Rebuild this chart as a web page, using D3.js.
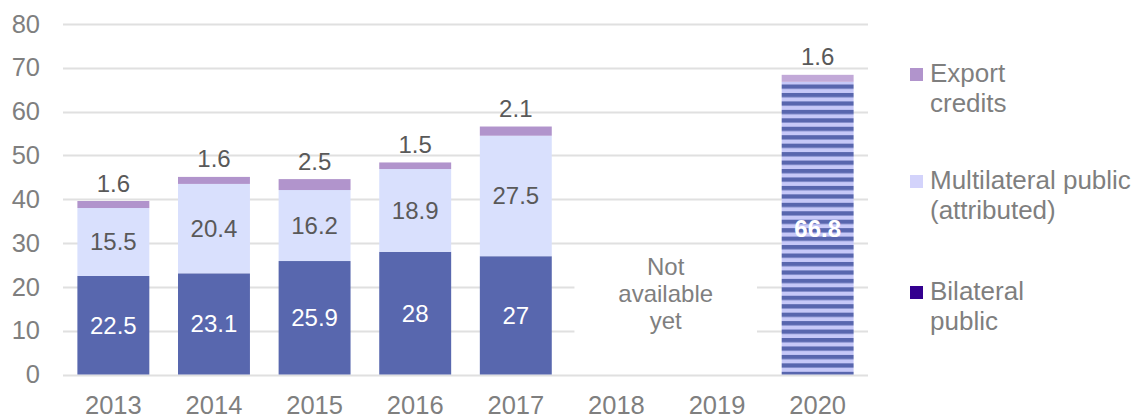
<!DOCTYPE html>
<html>
<head>
<meta charset="utf-8">
<script src="https://cdn.jsdelivr.net/npm/d3@7"></script>
<style>
  html, body { margin: 0; padding: 0; background: #fff; }
  svg { display: block; font-family: Arial, "Liberation Sans", sans-serif; }
</style>
</head>
<body>
<svg id="chart" width="1139" height="416"></svg>
<script>
// data
const years = ['2013', '2014', '2015', '2016', '2017', '2018', '2019', '2020'];
const bilateral = [22.5, 23.1, 25.9, 28, 27, null, null, 66.8];
const multilateral = [15.5, 20.4, 16.2, 18.9, 27.5, null, null, 0];
const exportCredits = [1.6, 1.6, 2.5, 1.5, 2.1, null, null, 1.6];
const yTicks = [0, 10, 20, 30, 40, 50, 60, 70, 80];
const legendItems = [
  { lines: ['Export', 'credits'], color: '#b194cc', base: 82 },
  { lines: ['Multilateral public', '(attributed)'], color: '#d3d3fb', base: 189 },
  { lines: ['Bilateral', 'public'], color: '#33008f', base: 300 }
];
const missingNote = ['Not', 'available', 'yet'];

const svg = d3.select('#chart');
const tickColor = '#7f7f7f';
const labelColor = '#595959';
const font = 'Arial, "Liberation Sans", sans-serif';

const x = d3.scaleBand().domain(years).range([63, 868]).paddingInner(0.285).paddingOuter(0.143);
const y = d3.scaleLinear().domain([0, 80]).range([374.5, 24]);

// stripes for the 2020 bar
const defs = svg.append('defs');
const pat = defs.append('pattern')
  .attr('id', 'stripes')
  .attr('patternUnits', 'userSpaceOnUse')
  .attr('width', 10).attr('height', 8.45);
pat.append('rect').attr('width', 10).attr('height', 8.45).attr('fill', '#c6c8f8');
pat.append('rect').attr('y', 0).attr('width', 10).attr('height', 4.3).attr('fill', '#5866ae');

// grid lines
svg.append('g').selectAll('line')
  .data(yTicks)
  .join('line')
  .attr('x1', 63).attr('x2', 868)
  .attr('y1', d => Math.round(y(d)) + 0.5).attr('y2', d => Math.round(y(d)) + 0.5)
  .attr('stroke', '#e0e0e0').attr('stroke-width', 2);

// y axis labels
const yAxis = svg.append('g').attr('transform', 'translate(40,0)')
  .call(d3.axisLeft(y).tickValues(yTicks).tickSize(0).tickPadding(0));
yAxis.select('.domain').remove();
yAxis.selectAll('text')
  .attr('fill', tickColor).attr('font-family', font).style('font-size', '25.5px');

// x axis labels
const xAxis = svg.append('g').attr('transform', 'translate(0,0)')
  .call(d3.axisBottom(x).tickSize(0).tickPadding(0));
xAxis.select('.domain').remove();
xAxis.selectAll('text')
  .attr('y', 414).attr('dy', null)
  .attr('fill', tickColor).attr('font-family', font).style('font-size', '25.5px');

// white box over 2018-2019
const x0 = x('2018') - 6, x1 = x('2019') + x.bandwidth() + 4;
svg.append('rect')
  .attr('x', x0).attr('y', y(30) + 11)
  .attr('width', x1 - x0).attr('height', y(7) - y(30) - 11)
  .attr('fill', '#fff');
svg.append('g').selectAll('text')
  .data(missingNote)
  .join('text')
  .attr('x', (x0 + x1) / 2)
  .attr('y', (d, i) => 275 + i * 27)
  .attr('text-anchor', 'middle')
  .attr('fill', tickColor).style('font-size', '24px')
  .text(d => d);

// bars
const bars = svg.append('g');
years.forEach((yr, i) => {
  if (bilateral[i] == null) return;
  const bx = x(yr), bw = x.bandwidth();
  const b = bilateral[i], m = multilateral[i], e = exportCredits[i];
  const striped = yr === '2020';
  bars.append('rect')
    .attr('x', bx).attr('width', bw)
    .attr('y', y(b)).attr('height', y(0) - y(b))
    .attr('fill', striped ? 'url(#stripes)' : '#5867ae');
  if (m > 0) {
    bars.append('rect')
      .attr('x', bx).attr('width', bw)
      .attr('y', y(b + m)).attr('height', y(b) - y(b + m))
      .attr('fill', '#d9e0fd');
  }
  bars.append('rect')
    .attr('x', bx).attr('width', bw)
    .attr('y', y(b + m + e)).attr('height', y(b + m) - y(b + m + e))
    .attr('fill', striped ? '#c2a9d8' : '#b194cc');

  const cx = bx + bw / 2;
  bars.append('text')
    .attr('x', cx).attr('y', (y(0) + y(b)) / 2 + 8.5)
    .attr('text-anchor', 'middle')
    .attr('fill', '#fff').style('font-size', '24px')
    .style('font-weight', striped ? 'bold' : 'normal')
    .text(b);
  if (m > 0) {
    bars.append('text')
      .attr('x', cx).attr('y', (y(b) + y(b + m)) / 2 + 8.5)
      .attr('text-anchor', 'middle')
      .attr('fill', labelColor).style('font-size', '24px')
      .text(m);
  }
  bars.append('text')
    .attr('x', cx).attr('y', y(b + m + e) - 9.5)
    .attr('text-anchor', 'middle')
    .attr('fill', labelColor).style('font-size', '24px')
    .text(e);
});

// legend
const legend = svg.append('g').attr('transform', 'translate(910,0)');
legendItems.forEach(item => {
  legend.append('rect')
    .attr('x', 0).attr('y', item.base - 14).attr('width', 13).attr('height', 13)
    .attr('fill', item.color);
  item.lines.forEach((ln, j) => {
    legend.append('text')
      .attr('x', 20).attr('y', item.base + j * 29.5)
      .attr('fill', tickColor).style('font-size', '26px')
      .text(ln);
  });
});
</script>
</body>
</html>
